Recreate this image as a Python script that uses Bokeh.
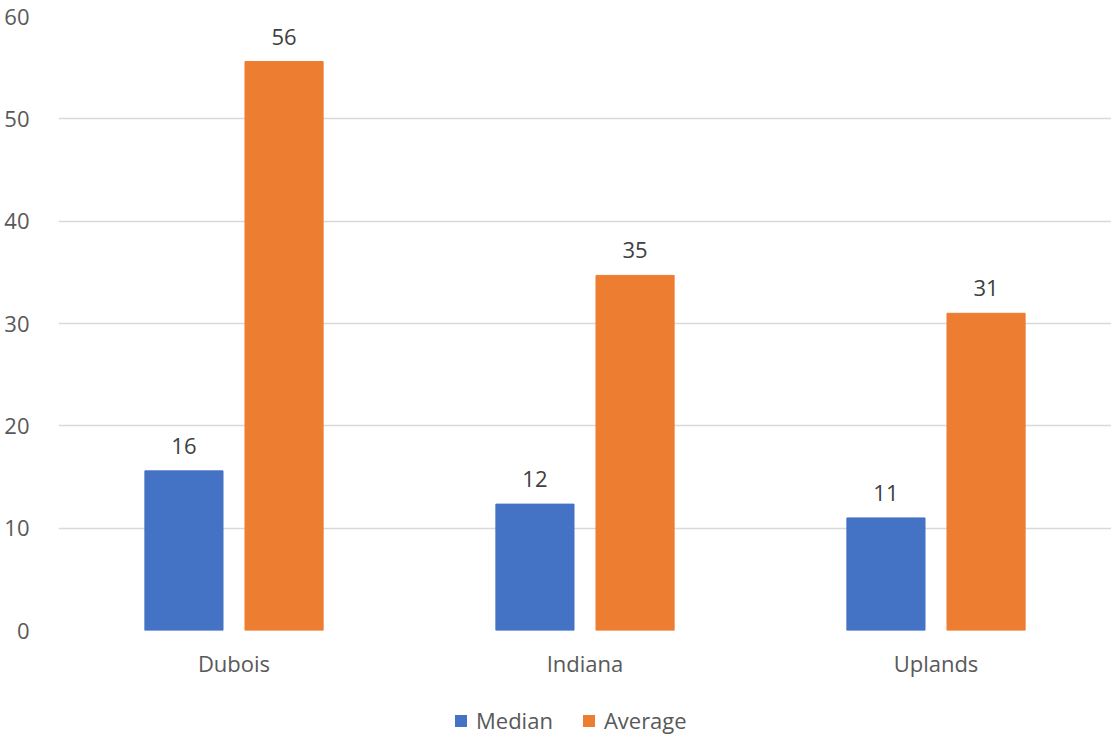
from bokeh.plotting import figure
from bokeh.models import ColumnDataSource, FactorRange, Range1d, Legend, LegendItem, SingleIntervalTicker
from bokeh.layouts import column
from bokeh.transform import dodge
from bokeh.core.properties import value
from bokeh.embed import file_html
from bokeh.resources import INLINE

categories = ["Dubois", "Indiana", "Uplands"]
median = [15.6, 12.35, 11.0]
average = [55.6, 34.7, 31.0]
median_labels = ["16", "12", "11"]
average_labels = ["56", "35", "31"]
series_names = ["Median", "Average"]
series_colors = ["#4472C4", "#ED7D31"]

FONT = "Open Sans"
TXT = "#595959"

src = ColumnDataSource(dict(cat=categories, median=median, average=average,
                            ml=median_labels, al=average_labels))

p = figure(width=1111, height=690, x_range=FactorRange(*categories, range_padding=0),
           y_range=Range1d(0, 60), output_backend="svg", toolbar_location=None,
           min_border_left=58, min_border_right=0, min_border_top=16, min_border_bottom=60)
p.outline_line_color = None

p.vbar(x=dodge("cat", -0.1426, range=p.x_range), top="median", width=0.2226,
       source=src, fill_color=series_colors[0], line_color=series_colors[0])
p.vbar(x=dodge("cat", 0.1426, range=p.x_range), top="average", width=0.2226,
       source=src, fill_color=series_colors[1], line_color=series_colors[1])

p.text(x=dodge("cat", -0.1426, range=p.x_range), y="median", text="ml", source=src,
       text_align="center", text_baseline="alphabetic", y_offset=-25,
       text_font=value(FONT), text_font_size="22px", text_color="#404040")
p.text(x=dodge("cat", 0.1426, range=p.x_range), y="average", text="al", source=src,
       text_align="center", text_baseline="alphabetic", y_offset=-25,
       text_font=value(FONT), text_font_size="22px", text_color="#404040")

p.yaxis.ticker = SingleIntervalTicker(interval=10)
p.ygrid.grid_line_color = "#D9D9D9"
p.ygrid.grid_line_width = 1.5
p.xgrid.grid_line_color = None
for ax in (p.xaxis, p.yaxis):
    ax.axis_line_color = None
    ax.major_tick_line_color = None
    ax.minor_tick_line_color = None
    ax.major_tick_out = 0
    ax.major_tick_in = 0
    ax.major_label_text_font = FONT
    ax.major_label_text_font_size = "22px"
    ax.major_label_text_color = TXT
p.yaxis.major_label_standoff = 25
p.xaxis.major_label_standoff = 17

# legend strip below the chart
p2 = figure(width=1111, height=45, x_range=Range1d(0, 1), y_range=Range1d(0, 1),
            output_backend="svg", toolbar_location=None,
            min_border_left=0, min_border_right=0, min_border_top=0, min_border_bottom=0)
p2.outline_line_color = None
p2.axis.visible = False
p2.grid.visible = False
items = []
for name, col in zip(series_names, series_colors):
    r = p2.vbar(x=[0.5], top=[0], bottom=[0], width=0.0, fill_color=col, line_color=col,
                line_alpha=0)
    items.append(LegendItem(label=name, renderers=[r]))
legend = Legend(items=items, orientation="horizontal", location=(395, 0),
                label_text_font=FONT, label_text_font_size="22px", label_text_color=TXT,
                glyph_width=15, glyph_height=15, label_height=15, label_standoff=8, spacing=28,
                border_line_color=None, background_fill_alpha=0, margin=0, padding=0)
p2.add_layout(legend, "center")

layout = column(p, p2, spacing=0)
open("out.html", "w").write(file_html(layout, INLINE))
